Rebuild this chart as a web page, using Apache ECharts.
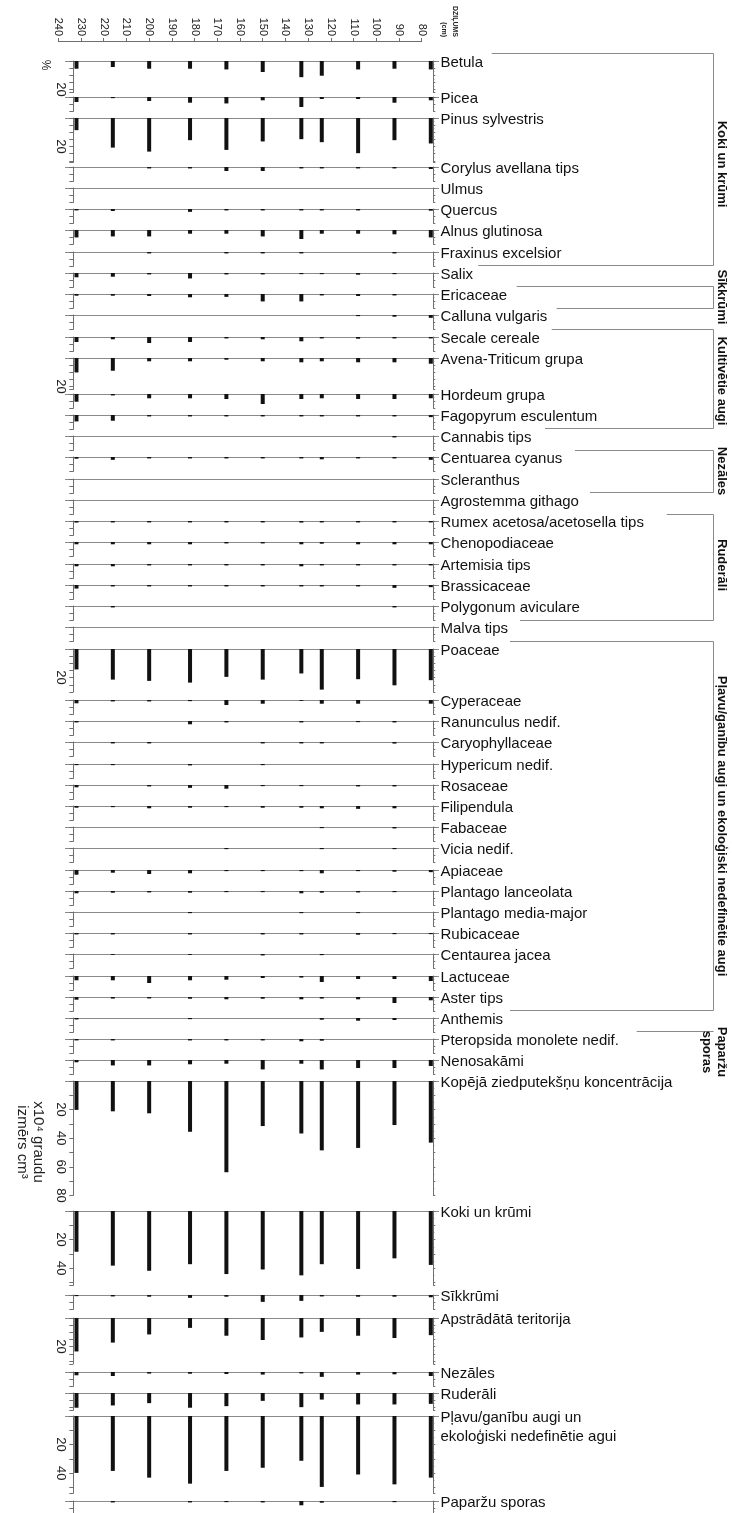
<!DOCTYPE html>
<html><head><meta charset="utf-8">
<script src="https://cdn.jsdelivr.net/npm/echarts@6/dist/echarts.min.js"></script>
<style>html,body{margin:0;padding:0;background:#fff}#c{width:732px;height:1513px}</style>
</head><body><div id="c"></div>
<script>
// ---- DATA ----
const depths = [232, 216, 200, 182, 166, 150, 133, 124, 108, 92, 76];
const depthMin = 80, depthMax = 240, depthStep = 10;

const betula = [5.4, 4.2, 5.4, 5.4, 5.9, 7.7, 11.3, 10.3, 5.9, 5.4, 5.9];
const picea = [3.5, 0.8, 2.8, 4.0, 4.5, 2.3, 7.0, 1.4, 1.4, 4.0, 2.3];
const pinus = [8.5, 20.7, 23.5, 15.5, 22.3, 16.4, 14.8, 16.9, 24.6, 15.5, 17.8];
const corylus = [0, 0, 1.0, 1.0, 2.8, 2.8, 1.0, 1.0, 1.0, 1.0, 1.4];
const ulmus = [0, 0, 0, 0, 0, 0, 0, 0, 0, 0, 0];
const quercus = [1.0, 1.4, 0, 2.0, 1.0, 1.0, 1.0, 1.0, 1.0, 0, 1.2];
const alnus = [5.2, 4.5, 4.5, 2.6, 2.6, 4.5, 6.3, 2.6, 2.6, 3.0, 5.2];
const fraxinus = [0, 0, 1.0, 0, 1.0, 1.0, 1.0, 0, 0, 1.0, 0];
const salix = [3.0, 2.6, 1.0, 3.8, 1.0, 1.0, 0.8, 0.8, 1.2, 0.8, 0];
const ericaceae = [1.2, 1.2, 1.4, 2.3, 2.0, 5.2, 5.2, 1.0, 1.4, 1.0, 0];
const calluna = [0, 0, 0, 0, 0, 0, 0, 0, 0.8, 1.2, 2.0];
const secale = [3.5, 1.6, 4.2, 3.5, 1.0, 1.6, 3.0, 1.0, 1.2, 1.0, 1.0];
const avena = [10.1, 8.9, 2.3, 2.3, 1.2, 2.3, 3.0, 2.3, 3.0, 3.0, 4.0];
const hordeum = [5.4, 1.0, 3.0, 3.0, 3.5, 7.0, 3.5, 3.0, 3.5, 3.5, 3.0];
const fagopyrum = [4.5, 4.0, 1.0, 1.0, 1.0, 1.0, 1.0, 1.0, 1.0, 1.0, 1.5];
const cannabis = [0, 0, 0, 0, 0, 0, 0, 0, 0, 1.0, 0];
const centuarea = [1.2, 2.0, 1.0, 1.0, 1.0, 1.0, 1.0, 1.6, 1.0, 1.0, 2.0];
const scleranthus = [0, 0, 0, 0, 0, 0, 0, 0, 0, 0, 0];
const agrostemma = [0, 0, 0, 0, 0, 0, 0, 0, 0, 0, 0];
const rumex = [1.1, 1.0, 1.0, 1.0, 1.0, 1.0, 1.1, 1.0, 1.0, 1.0, 1.0];
const chenopodiaceae = [1.6, 1.6, 1.6, 1.6, 1.0, 1.0, 1.6, 1.2, 1.6, 1.6, 1.6];
const artemisia = [1.6, 1.6, 1.0, 1.0, 1.0, 1.0, 1.6, 1.0, 1.0, 1.0, 1.0];
const brassicaceae = [2.5, 1.0, 1.0, 1.0, 1.0, 1.0, 1.0, 1.0, 1.0, 2.0, 1.5];
const polygonum = [0, 1.0, 0, 0, 0, 0, 0, 0, 0, 1.0, 0];
const malva = [0, 0, 0, 0, 0, 0, 0, 0, 0, 0, 0];
const poaceae = [14.3, 21.4, 22.3, 23.5, 19.5, 21.4, 17.1, 28.4, 21.1, 25.4, 21.8];
const cyperaceae = [2.3, 1.0, 1.0, 0.8, 3.5, 2.6, 0.6, 2.6, 2.6, 0, 2.6];
const ranunculus = [1.0, 0, 0, 2.3, 1.0, 0, 1.0, 0, 0.8, 1.0, 0];
const caryophyllaceae = [0, 1.0, 1.0, 0, 0, 1.0, 1.0, 1.0, 0, 1.1, 0];
const hypericum = [0.8, 0.8, 0, 1.0, 0, 0.8, 0, 0, 0, 0, 0];
const rosaceae = [1.6, 0, 1.0, 2.0, 2.6, 0.8, 0.8, 0, 1.0, 1.0, 0];
const filipendula = [1.2, 0.8, 1.6, 1.2, 0.8, 1.2, 1.2, 1.6, 2.0, 1.6, 0];
const fabaceae = [0, 0, 0, 0, 0, 0, 0, 0.8, 0, 1.0, 0];
const vicia = [0, 0, 0, 0, 0.8, 0, 0, 0.8, 0, 0.8, 0];
const apiaceae = [3.3, 1.9, 2.8, 2.3, 0.8, 0.8, 0.8, 2.3, 0.8, 1.2, 1.5];
const plantagoLanceolata = [1.6, 1.2, 1.0, 1.2, 0.8, 0.8, 1.6, 1.2, 1.0, 0.8, 0];
const plantagoMedia = [0, 0, 0, 0.8, 0, 0, 0.8, 0, 0.8, 0, 0];
const rubicaceae = [1.0, 1.0, 0, 1.0, 0, 1.0, 1.0, 0, 1.2, 0.8, 0.8];
const centaureaJacea = [0, 0.6, 0, 0.6, 0, 1.0, 0, 0.8, 0, 0, 0];
const lactuceae = [3.0, 3.0, 4.9, 3.0, 2.6, 1.4, 1.1, 4.2, 2.1, 2.1, 3.5];
const aster = [1.9, 1.1, 1.0, 1.2, 1.6, 1.2, 1.6, 1.1, 1.6, 4.2, 2.3];
const anthemis = [1.0, 0, 0, 0.8, 0, 0, 0, 1.2, 1.9, 1.4, 0];
const pteropsida = [1.0, 1.0, 0, 1.0, 1.0, 1.0, 1.6, 1.2, 0, 0, 0];
const nenosakami = [1.6, 3.8, 3.8, 3.0, 2.6, 6.6, 2.6, 6.6, 5.6, 5.6, 4.2];
const kopeja = [20.2, 21.2, 22.6, 35.5, 63.8, 31.5, 36.7, 48.5, 46.8, 30.8, 43.1];
const kokiSum = [28.5, 38.2, 41.8, 37.2, 44.1, 40.9, 45.0, 37.2, 40.5, 33.1, 37.7];
const sikkrumiSum = [0.8, 1.0, 1.2, 2.0, 1.2, 4.8, 4.1, 1.0, 1.2, 1.2, 1.6];
const apstradataSum = [23.4, 17.2, 11.5, 6.9, 12.4, 15.4, 13.6, 9.7, 12.4, 14.0, 12.0];
const nezalesSum = [2.3, 2.8, 1.1, 1.2, 1.4, 1.8, 1.0, 3.4, 1.8, 1.6, 2.8];
const ruderaliSum = [10.3, 8.7, 7.1, 10.3, 9.2, 5.5, 9.9, 4.6, 8.0, 8.0, 7.6];
const plavuSum = [39.8, 38.4, 43.1, 47.3, 38.4, 36.2, 31.3, 49.6, 40.9, 47.8, 43.1];
const paparzuSum = [0, 1.0, 0, 1.0, 0.8, 1.0, 3.0, 1.2, 0, 0.8, 0];

const rowNames = ['Betula','Picea','Pinus sylvestris','Corylus avellana tips','Ulmus','Quercus','Alnus glutinosa','Fraxinus excelsior','Salix','Ericaceae','Calluna vulgaris','Secale cereale','Avena-Triticum grupa','Hordeum grupa','Fagopyrum esculentum','Cannabis tips','Centuarea cyanus','Scleranthus','Agrostemma githago','Rumex acetosa/acetosella tips','Chenopodiaceae','Artemisia tips','Brassicaceae','Polygonum aviculare','Malva tips','Poaceae','Cyperaceae','Ranunculus nedif.','Caryophyllaceae','Hypericum nedif.','Rosaceae','Filipendula','Fabaceae','Vicia nedif.','Apiaceae','Plantago lanceolata','Plantago media-major','Rubicaceae','Centaurea jacea','Lactuceae','Aster tips','Anthemis','Pteropsida monolete nedif.','Nenosakāmi','Kopējā ziedputekšņu koncentrācija','Koki un krūmi','Sīkkrūmi','Apstrādātā teritorija','Nezāles','Ruderāli','Pļavu/ganību augi un\nekoloģiski nedefinētie agui','Paparžu sporas'];
const rowValues = [betula,picea,pinus,corylus,ulmus,quercus,alnus,fraxinus,salix,ericaceae,calluna,secale,avena,hordeum,fagopyrum,cannabis,centuarea,scleranthus,agrostemma,rumex,chenopodiaceae,artemisia,brassicaceae,polygonum,malva,poaceae,cyperaceae,ranunculus,caryophyllaceae,hypericum,rosaceae,filipendula,fabaceae,vicia,apiaceae,plantagoLanceolata,plantagoMedia,rubicaceae,centaureaJacea,lactuceae,aster,anthemis,pteropsida,nenosakami,kopeja,kokiSum,sikkrumiSum,apstradataSum,nezalesSum,ruderaliSum,plavuSum,paparzuSum];
const rowMax = [22,10,31,10,10,10,10,10,10,10,10,10,22,10,10,10,10,10,10,10,10,10,10,10,10,30,10,10,10,10,10,10,10,10,10,10,10,10,10,10,10,10,10,10,80,52,10,32,10,12,54,10];

const groupNames = ['Koki un krūmi','Sīkkrūmi','Kultivētie augi','Nezāles','Ruderāli','Pļavu/ganību augi un ekoloģiski nedefinētie augi','Paparžu\nsporas'];

// ---- LAYOUT ----
const rowTops = [61,97,118,167,188,209,230,252,273,294,315,337,358,394,415,436,457,479,500,521,542,564,585,606,627,649,700,721,742,764,785,806,827,848,870,891,912,933,954,976,997,1018,1039,1060,1081,1211,1295,1318,1372,1393,1416,1501];
const K = 1.43;                 // px per unit
const PANEL_LEFT = 73.3, PANEL_RIGHT = 433.3;
const PANEL_DMAX = 233.4, PANEL_DMIN = 74.9;
const groupLayout = [
  {y1:53.5, x1:491.7, y2:265.5, x2:478.3, cy:164},
  {y1:286.5, x1:516.7, y2:308.5, x2:556.7, cy:297},
  {y1:329.5, x1:551.7, y2:428.5, x2:545, cy:381},
  {y1:450.5, x1:575, y2:492.5, x2:590, cy:471},
  {y1:514.5, x1:666.7, y2:620.5, x2:520, cy:565},
  {y1:641.5, x1:510, y2:1010.5, x2:510, cy:826},
  {y1:1031.5, x1:636.7, y2:null, x2:701.7, cy:1052, cx:714}
];
const FONT = '"Liberation Sans", Arial, Helvetica, sans-serif';
const GRAY = '#8a8a8a', AXIS = '#6f6f6f', BAR = '#111';

const grids = [], xAxes = [], yAxes = [], series = [], elements = [];

// top depth axis
grids.push({left: 58.3, width: 363.4, top: 40, height: 1, outerBoundsMode: 'none'});
xAxes.push({type:'value', gridIndex:0, position:'top', min:depthMin, max:depthMax, interval:depthStep, inverse:true,
  axisLine:{show:true, lineStyle:{color:AXIS, width:1}},
  axisTick:{show:true, length:3, lineStyle:{color:AXIS}},
  splitLine:{show:false},
  axisLabel:{rotate:-90, margin:4, fontSize:11, color:'#222', fontFamily:FONT}});
yAxes.push({type:'value', gridIndex:0, show:false});

rowNames.forEach((name, i) => {
  const gi = i + 1, top = rowTops[i], max = rowMax[i];
  const big = max >= 40;
  grids.push({left: PANEL_LEFT, width: PANEL_RIGHT - PANEL_LEFT, top: top, height: max * K, outerBoundsMode: 'none'});
  xAxes.push({type:'value', gridIndex:gi, min:PANEL_DMIN, max:PANEL_DMAX, inverse:true, show:false});
  const common = {type:'value', gridIndex:gi, min:0, max:max, inverse:true, interval: big ? 10 : 5,
    splitLine:{show:false}};
  yAxes.push(Object.assign({}, common, {position:'left',
    axisLine:{show:true, lineStyle:{color:AXIS, width:1}},
    axisTick:{show:true, length:4, lineStyle:{color:AXIS}},
    minorTick:{show:false},
    axisLabel:{show:true, rotate:-90, margin:6, fontSize:13, color:'#222', fontFamily:FONT,
      showMinLabel:true, showMaxLabel:true,
      formatter: v => (v > 0 && v % 20 === 0) ? String(v) : ''}}));
  yAxes.push(Object.assign({}, common, {position:'right',
    axisLine:{show:true, lineStyle:{color:AXIS, width:1}},
    axisTick:{show:true, length:2, lineStyle:{color:AXIS}},
    minorTick:{show:true, splitNumber:2, length:1, lineStyle:{color:AXIS}},
    axisLabel:{show:false}}));
  series.push({type:'bar', xAxisIndex:gi, yAxisIndex:2*i+1, barWidth:4, silent:true, z:5,
    itemStyle:{color:BAR}, data: depths.map((d, j) => [d, rowValues[i][j]])});
  // baseline (under bars)
  elements.push({type:'line', silent:true, z:0,
    shape:{x1:65, y1:top + 0.5, x2:439, y2:top + 0.5}, style:{stroke:GRAY, lineWidth:1}});
  // label
  elements.push({type:'text', silent:true, x:440.5, y:top + 2 - 9.5,
    style:{text:name, font:'15px ' + FONT, fill:'#111', align:'left', verticalAlign:'top', lineHeight:19}});
});

// group brackets
groupNames.forEach((g, k) => {
  const L = groupLayout[k];
  elements.push({type:'line', silent:true, shape:{x1:L.x1, y1:L.y1, x2:713.5, y2:L.y1}, style:{stroke:GRAY, lineWidth:1}});
  if (L.y2 !== null) {
    elements.push({type:'line', silent:true, shape:{x1:L.x2, y1:L.y2, x2:713.5, y2:L.y2}, style:{stroke:GRAY, lineWidth:1}});
    elements.push({type:'line', silent:true, shape:{x1:713.5, y1:L.y1, x2:713.5, y2:L.y2}, style:{stroke:GRAY, lineWidth:1}});
  }
  elements.push({type:'text', silent:true, x: L.cx || 722, y: L.cy, rotation: -Math.PI/2,
    style:{text:g, font:'bold 13px ' + FONT, fill:'#111', align:'center', verticalAlign:'middle', lineHeight:15}});
});

// axis titles
elements.push({type:'text', silent:true, x:449, y:37, rotation:-Math.PI/2,
  style:{text:'DZIĻUMS\n(cm)', font:'bold 7px ' + FONT, fill:'#222', align:'right', verticalAlign:'middle', lineHeight:11}});
elements.push({type:'text', silent:true, x:45, y:65, rotation:-Math.PI/2,
  style:{text:'%', font:'12px ' + FONT, fill:'#222', align:'center', verticalAlign:'middle'}});
elements.push({type:'text', silent:true, x:30, y:1142, rotation:-Math.PI/2,
  style:{text:'x10⁴ graudu\nizmērs cm³', font:'15px ' + FONT, fill:'#222', align:'center', verticalAlign:'middle', lineHeight:16}});

const chart = echarts.init(document.getElementById('c'), null, {renderer:'canvas'});
chart.setOption({animation:false, backgroundColor:'#fff', grid:grids, xAxis:xAxes, yAxis:yAxes, series:series,
  graphic:{z:0, zlevel:0, elements:elements}});
</script></body></html>
